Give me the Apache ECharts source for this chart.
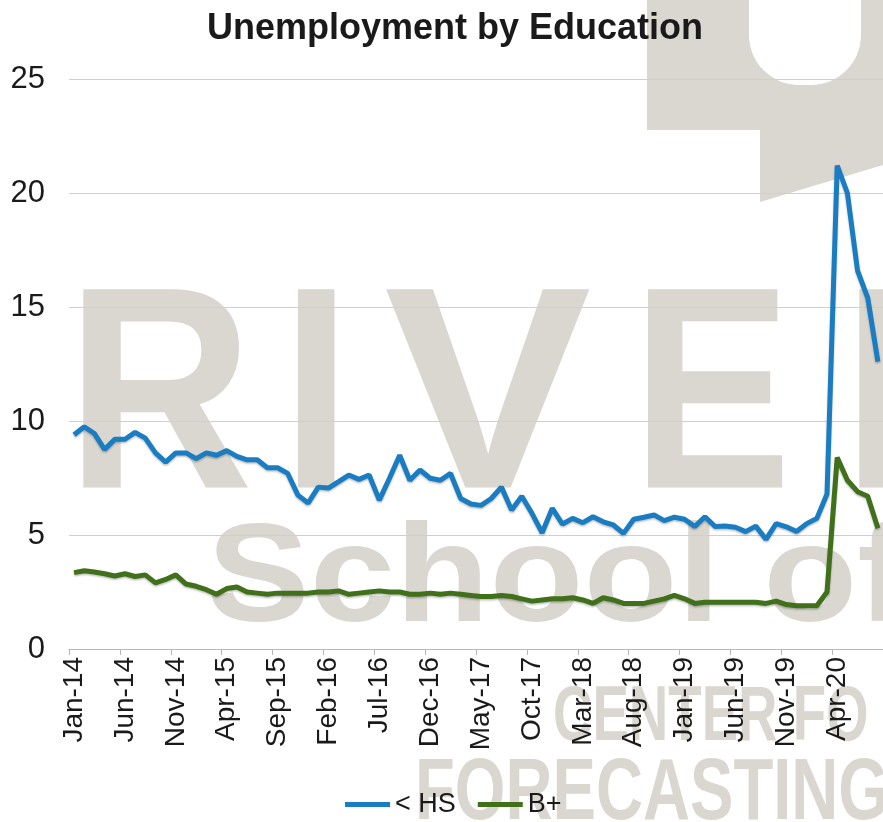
<!DOCTYPE html>
<html>
<head>
<meta charset="utf-8">
<script src="https://cdn.jsdelivr.net/npm/echarts@6/dist/echarts.min.js"></script>
<style>
  html, body { margin: 0; padding: 0; background: #ffffff; }
  #chart { width: 883px; height: 822px; }
</style>
</head>
<body>
<div id="chart"></div>
<script>
// Monthly categories, Jan 2014 through Aug 2020
const months = [
  'Jan-14','Feb-14','Mar-14','Apr-14','May-14','Jun-14','Jul-14','Aug-14','Sep-14','Oct-14','Nov-14','Dec-14',
  'Jan-15','Feb-15','Mar-15','Apr-15','May-15','Jun-15','Jul-15','Aug-15','Sep-15','Oct-15','Nov-15','Dec-15',
  'Jan-16','Feb-16','Mar-16','Apr-16','May-16','Jun-16','Jul-16','Aug-16','Sep-16','Oct-16','Nov-16','Dec-16',
  'Jan-17','Feb-17','Mar-17','Apr-17','May-17','Jun-17','Jul-17','Aug-17','Sep-17','Oct-17','Nov-17','Dec-17',
  'Jan-18','Feb-18','Mar-18','Apr-18','May-18','Jun-18','Jul-18','Aug-18','Sep-18','Oct-18','Nov-18','Dec-18',
  'Jan-19','Feb-19','Mar-19','Apr-19','May-19','Jun-19','Jul-19','Aug-19','Sep-19','Oct-19','Nov-19','Dec-19',
  'Jan-20','Feb-20','Mar-20','Apr-20','May-20','Jun-20','Jul-20','Aug-20'
];

// Unemployment rate (%), less than high school
const lessThanHS = [
  9.4, 9.75, 9.45, 8.75, 9.2, 9.2, 9.5, 9.25, 8.6, 8.2, 8.6, 8.6,
  8.35, 8.6, 8.5, 8.7, 8.45, 8.3, 8.3, 7.95, 7.95, 7.7, 6.75, 6.4,
  7.1, 7.06, 7.34, 7.63, 7.44, 7.63, 6.53, 7.49, 8.5, 7.4, 7.85, 7.49,
  7.4, 7.7, 6.6, 6.36, 6.3, 6.6, 7.1, 6.1, 6.7, 5.95, 5.1, 6.17,
  5.48, 5.73, 5.54, 5.8, 5.58, 5.44, 5.07, 5.69, 5.78, 5.88, 5.63, 5.78,
  5.69, 5.37, 5.8, 5.37, 5.39, 5.34, 5.15, 5.39, 4.81, 5.5, 5.36, 5.15,
  5.5, 5.73, 6.8, 21.2, 20.0, 16.6, 15.4, 12.6
];

// Unemployment rate (%), bachelor's degree and higher
const bachelorsPlus = [
  3.35, 3.43, 3.38, 3.3, 3.2, 3.3, 3.18, 3.25, 2.9, 3.05, 3.25, 2.85,
  2.75, 2.6, 2.4, 2.65, 2.72, 2.5, 2.45, 2.4, 2.45, 2.45, 2.45, 2.45,
  2.5, 2.5, 2.55, 2.4, 2.45, 2.5, 2.55, 2.5, 2.5, 2.4, 2.4, 2.45,
  2.4, 2.45, 2.4, 2.35, 2.3, 2.3, 2.35, 2.3, 2.2, 2.1, 2.15, 2.2,
  2.2, 2.25, 2.15, 2.0, 2.25, 2.15, 2.0, 2.0, 2.0, 2.1, 2.2, 2.35,
  2.2, 2.0, 2.05, 2.05, 2.05, 2.05, 2.05, 2.05, 2.0, 2.1, 1.95, 1.9,
  1.9, 1.9, 2.5, 8.4, 7.4, 6.9, 6.7, 5.3
];

const seriesNames = ['< HS', 'B+'];
const seriesColors = ['#1a7dc2', '#41701b'];

const chartTitle = 'Unemployment by Education';
const watermarkFill = '#dad6d0';
const baseFont = "'Liberation Sans', Arial, sans-serif";

const chart = echarts.init(document.getElementById('chart'), null, { renderer: 'canvas' });

// Faint logo lettering behind the plot
function letter(ch, x, y, size, sx) {
  return {
    type: 'text', z: -10, silent: true,
    x: x, y: y, scaleX: sx || 1,
    style: {
      text: ch, fill: watermarkFill,
      font: 'bold ' + size + 'px ' + baseFont,
      textAlign: 'left', textVerticalAlign: 'middle'
    }
  };
}

const watermark = [
  { type: 'rect', z: -10, silent: true, shape: { x: 647, y: 0, width: 240, height: 130 }, style: { fill: watermarkFill } },
  { type: 'rect', z: -9, silent: true, shape: { x: 749, y: -60, width: 112, height: 145, r: 50 }, style: { fill: '#ffffff' } },
  { type: 'polygon', z: -10, silent: true, shape: { points: [[760, 130], [883, 130], [883, 165], [760, 202]] }, style: { fill: watermarkFill } },
  letter('R', 66, 408, 288, 0.9),
  letter('I', 281, 408, 288, 0.88),
  letter('V', 384, 408, 288, 1.08),
  letter('E', 632, 408, 288, 0.83),
  letter('R', 842, 408, 288, 0.9),
  letter('School of', 207, 582, 140, 1.1),
  letter('CENTER FO', 553, 718, 78, 0.7),
  letter('FORECASTING', 415, 795, 88, 0.74)
];

const option = {
  animation: false,
  backgroundColor: '#ffffff',
  title: {
    text: chartTitle,
    left: 202,
    top: 6,
    textStyle: { fontFamily: baseFont, fontSize: 36, fontWeight: 'bold', color: '#1a1a1a' }
  },
  graphic: watermark,
  legend: {
    data: seriesNames,
    left: 340,
    top: 786,
    icon: 'rect',
    itemWidth: 45,
    itemHeight: 5,
    itemGap: 22,
    textStyle: { fontFamily: baseFont, fontSize: 27, color: '#1a1a1a' }
  },
  grid: { left: 69, right: 0, top: 79, bottom: 173, containLabel: false },
  xAxis: {
    type: 'category',
    data: months,
    boundaryGap: true,
    axisLine: { show: true, lineStyle: { color: '#b8b8b8', width: 1 } },
    axisTick: { show: true, interval: 4, length: 6, lineStyle: { color: '#b8b8b8' } },
    axisLabel: {
      interval: 4, rotate: 90, margin: 8,
      fontFamily: baseFont, fontSize: 28, color: '#1a1a1a'
    },
    splitLine: { show: false }
  },
  yAxis: {
    type: 'value',
    min: 0, max: 25, interval: 5,
    axisLine: { show: false },
    axisTick: { show: false },
    axisLabel: { margin: 24, fontFamily: baseFont, fontSize: 31, color: '#1a1a1a' },
    splitLine: { lineStyle: { color: '#cfcfcf', width: 1 } }
  },
  series: [
    {
      name: seriesNames[0], type: 'line', data: lessThanHS,
      showSymbol: false, symbol: 'none', smooth: false,
      color: seriesColors[0],
      lineStyle: { width: 5, color: seriesColors[0], shadowColor: 'rgba(0,0,0,0.25)', shadowBlur: 2, shadowOffsetY: 1.5 },
      z: 3
    },
    {
      name: seriesNames[1], type: 'line', data: bachelorsPlus,
      showSymbol: false, symbol: 'none', smooth: false,
      color: seriesColors[1],
      lineStyle: { width: 5, color: seriesColors[1], shadowColor: 'rgba(0,0,0,0.25)', shadowBlur: 2, shadowOffsetY: 1.5 },
      z: 2
    }
  ]
};

chart.setOption(option);
</script>
</body>
</html>
